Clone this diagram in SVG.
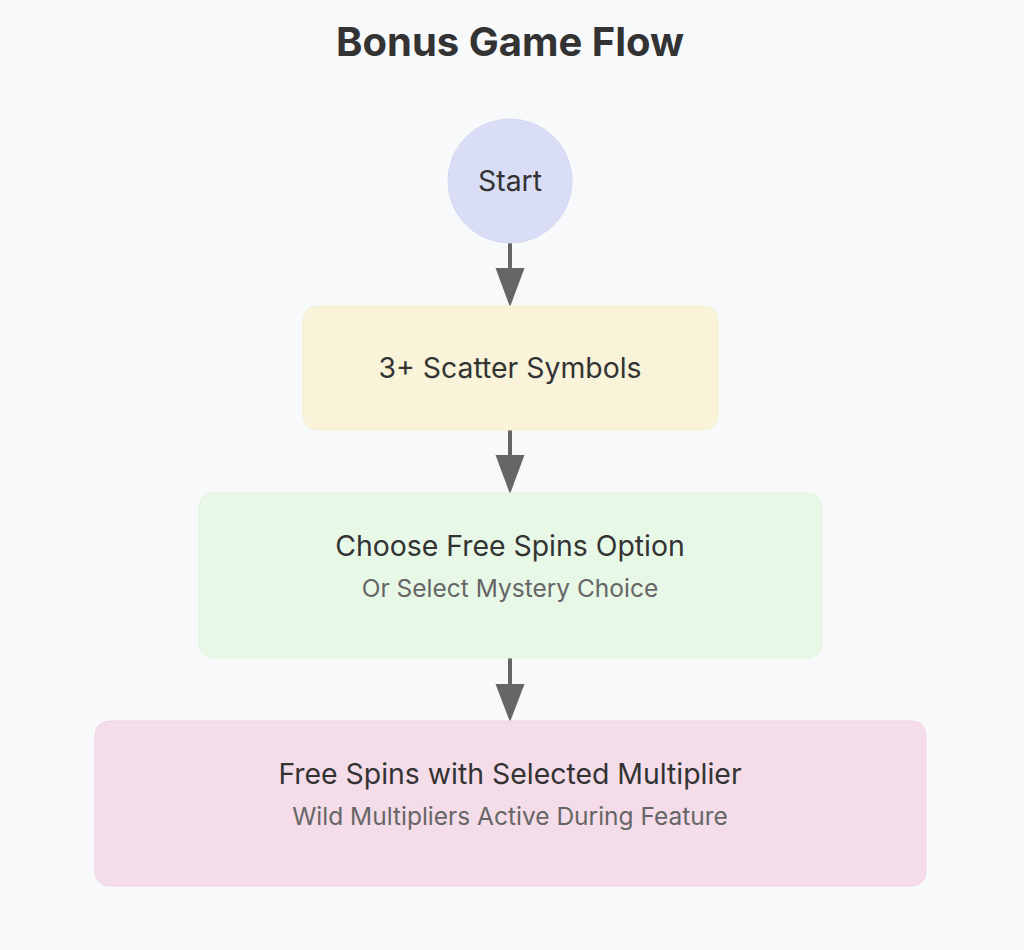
<svg xmlns="http://www.w3.org/2000/svg" width="1024" height="950" viewBox="0 0 1024 950">
<defs>
<style>
.bg{fill:#f8f9fb}
.title{font-family:Inter,"Noto Sans",sans-serif;font-weight:700;font-size:40px;fill:#333;text-anchor:middle}
.lbl{font-family:Inter,"Noto Sans",sans-serif;font-size:28.4px;fill:#333;text-anchor:middle}
.sub{font-family:Inter,"Noto Sans",sans-serif;font-size:24.5px;fill:#666;text-anchor:middle}
.edge{stroke:#666;stroke-width:4;fill:none}
.head{fill:#666}
</style>
</defs>
<rect class="bg" x="0" y="0" width="1024" height="950"/>
<text class="title" x="510" y="56">Bonus Game Flow</text>
<g id="connectors">
<line class="edge" x1="510" y1="243" x2="510" y2="270"/>
<polygon class="head" points="495.5,268 524.5,268 510,307"/>
<line class="edge" x1="510" y1="430" x2="510" y2="457"/>
<polygon class="head" points="495.5,455 524.5,455 510,494"/>
<line class="edge" x1="510" y1="658" x2="510" y2="686"/>
<polygon class="head" points="495.5,684 524.5,684 510,722"/>
</g>
<g id="start">
<circle cx="510" cy="181" r="62" fill="#d9ddf5" stroke="#d3d8f2" stroke-width="1"/>
<text class="lbl" x="510" y="191">Start</text>
</g>
<g id="scatter">
<rect x="303" y="306" width="415" height="124" rx="14" fill="#f8f3d9" stroke="#f4eed2" stroke-width="1"/>
<text class="lbl" x="510" y="378">3+ Scatter Symbols</text>
</g>
<g id="choose">
<rect x="199" y="493" width="623" height="165" rx="14" fill="#e8f8e6" stroke="#e3f4e1" stroke-width="1"/>
<text class="lbl" x="510" y="556">Choose Free Spins Option</text>
<text class="sub" x="510" y="597">Or Select Mystery Choice</text>
</g>
<g id="freespins">
<rect x="95" y="721" width="831" height="165" rx="14" fill="#f5dce9" stroke="#f1d6e4" stroke-width="1"/>
<text class="lbl" x="510" y="784">Free Spins with Selected Multiplier</text>
<text class="sub" x="510" y="825">Wild Multipliers Active During Feature</text>
</g>
</svg>
